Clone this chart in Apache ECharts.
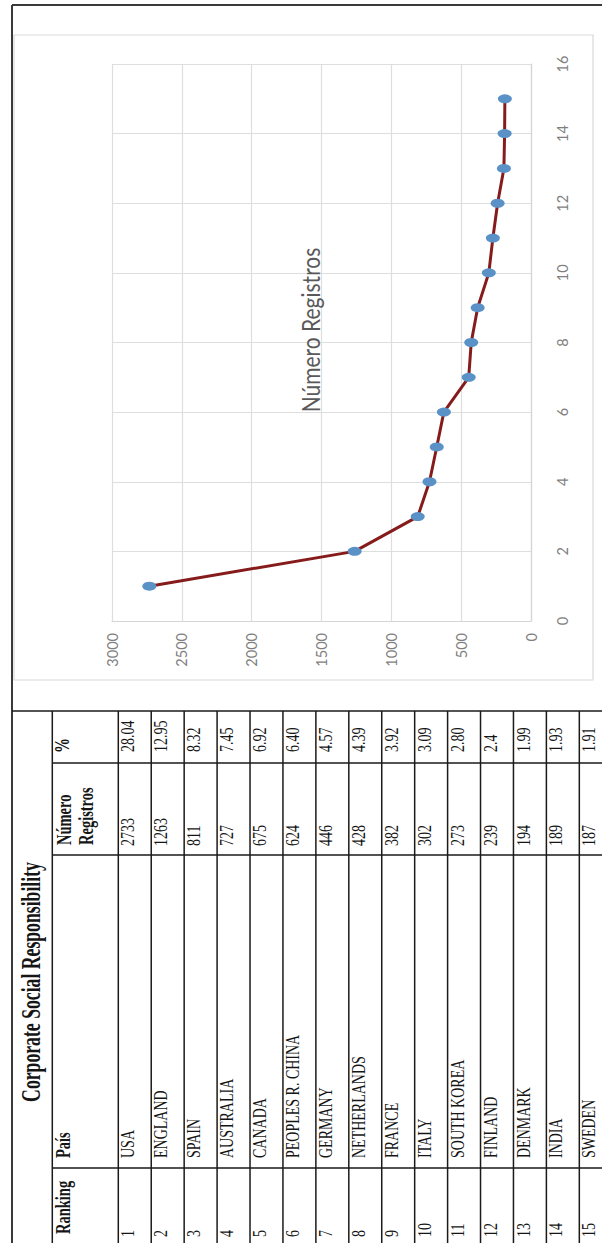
<!DOCTYPE html>
<html>
<head>
<meta charset="utf-8">
<script src="https://cdn.jsdelivr.net/npm/echarts@6/dist/echarts.min.js"></script>
<style>
html,body{margin:0;padding:0;background:#fff;}
#chart{width:602px;height:1243px;}
</style>
</head>
<body>
<div id="chart"></div>
<script>
// ---- data ----
const rankings = [1, 2, 3, 4, 5, 6, 7, 8, 9, 10, 11, 12, 13, 14, 15];
const countries = ['USA', 'ENGLAND', 'SPAIN', 'AUSTRALIA', 'CANADA', 'PEOPLES R. CHINA', 'GERMANY',
  'NETHERLANDS', 'FRANCE', 'ITALY', 'SOUTH KOREA', 'FINLAND', 'DENMARK', 'INDIA', 'SWEDEN'];
const registros = [2733, 1263, 811, 727, 675, 624, 446, 428, 382, 302, 273, 239, 194, 189, 187];
const percents = ['28.04', '12.95', '8.32', '7.45', '6.92', '6.40', '4.57', '4.39', '3.92', '3.09',
  '2.80', '2.4', '1.99', '1.93', '1.91'];
const tableTitle = 'Corporate Social Responsibility';
const headers = { ranking: 'Ranking', pais: 'País', num1: 'Número', num2: 'Registros', pct: '%' };
const chartTitle = 'Número Registros';

// ---- layout ----
const R = Math.PI / 2;
const serif = "'Liberation Serif','Times New Roman',serif";
const sans = "Lato,'Open Sans',sans-serif";
const ink = '#151515';
const rowStart = 118.3, rowH = 32.93;
const colLines = [763, 855, 1168];
const tableTop = 711;

function vtext(x, y, text, o) {
  return {
    type: 'text', x: x, y: y, rotation: R, scaleY: o.sy || 1, silent: true, z: 10,
    style: {
      text: text, fontFamily: o.family || serif, fontSize: o.size, fontWeight: o.weight || 'normal',
      fill: o.color || ink, align: o.align || 'left', verticalAlign: 'middle',
      textAlign: o.align || 'left', textVerticalAlign: 'middle'
    }
  };
}
function ln(x1, y1, x2, y2, c, w) {
  return { type: 'line', silent: true, z: 9, shape: { x1: x1, y1: y1, x2: x2, y2: y2 },
    style: { stroke: c || '#1a1a1a', lineWidth: w || 1.5 } };
}

const g = [];
// chart area border
g.push({ type: 'rect', silent: true, z: 1, shape: { x: 14, y: 35, width: 579, height: 645 },
  style: { fill: 'none', stroke: '#d9d9d9', lineWidth: 1.2 } });
// outer frame
g.push(ln(12, 5, 602, 5, '#3a3a3a', 2));
g.push(ln(12, 5, 12, 1243, '#3a3a3a', 2));
g.push(ln(12, tableTop, 602, tableTop, '#1a1a1a', 1.6));
// table lines
g.push(ln(52.3, tableTop, 52.3, 1243));
for (let k = 0; k < rankings.length; k++) {
  const x = rowStart + k * rowH;
  g.push(ln(x, tableTop, x, 1243));
}
colLines.forEach(function (y) { g.push(ln(52.3, y, 602, y)); });

// table title and headers
g.push(vtext(31.5, 982, tableTitle, { size: 17.7, weight: 'bold', sy: 1.5, align: 'center' }));
g.push(vtext(63, 1234, headers.ranking, { size: 14.5, weight: 'bold', sy: 1.4 }));
g.push(vtext(63.5, 1158, headers.pais, { size: 14.5, weight: 'bold', sy: 1.4 }));
g.push(vtext(64.5, 845, headers.num1, { size: 14.5, weight: 'bold', sy: 1.4 }));
g.push(vtext(86.5, 845, headers.num2, { size: 14.5, weight: 'bold', sy: 1.4 }));
g.push(vtext(62, 753, headers.pct, { size: 15, weight: 'bold', sy: 1.4 }));

// table rows
for (let i = 0; i < rankings.length; i++) {
  const cx = rowStart + i * rowH + 10.5;
  g.push(vtext(cx, 1237, String(rankings[i]), { size: 14, sy: 1.3 }));
  g.push(vtext(cx, 1158, countries[i], { size: 14, sy: 1.3 }));
  g.push(vtext(cx, 846, String(registros[i]), { size: 14, sy: 1.3 }));
  g.push(vtext(cx, 752, percents[i], { size: 14, sy: 1.3 }));
}

// chart title
g.push(vtext(310, 330, chartTitle, { size: 21, sy: 1.2, align: 'center', color: '#595959', family: sans }));

const chart = echarts.init(document.getElementById('chart'), null, { renderer: 'svg' });
chart.setOption({
  animation: false,
  backgroundColor: '#ffffff',
  grid: { left: 112, right: 71, top: 64, bottom: 622, containLabel: false },
  xAxis: {
    type: 'value', min: 0, max: 3000, interval: 500, inverse: true, position: 'bottom',
    axisLine: { show: true, lineStyle: { color: '#d4d4d4', width: 1.2 } },
    axisTick: { show: false },
    splitLine: { show: true, lineStyle: { color: '#dedede', width: 1.2 } },
    axisLabel: { rotate: 90, margin: 12, color: '#7f7f7f', fontSize: 14.5, fontFamily: sans,
      formatter: function (v) { return String(v); } }
  },
  yAxis: {
    type: 'value', min: 0, max: 16, interval: 2, position: 'right',
    axisLine: { show: true, lineStyle: { color: '#d4d4d4', width: 1.2 } },
    axisTick: { show: false },
    splitLine: { show: true, lineStyle: { color: '#dedede', width: 1.2 } },
    axisLabel: { rotate: 90, margin: 24, color: '#7f7f7f', fontSize: 14.5, fontFamily: sans,
      formatter: function (v) { return String(v); } }
  },
  series: [{
    type: 'line',
    data: registros.map(function (v, i) { return [v, rankings[i]]; }),
    lineStyle: { color: '#861b1b', width: 3 },
    symbol: 'circle', symbolSize: [14, 9],
    itemStyle: { color: '#5a92c8', borderWidth: 0 },
    z: 5
  }],
  graphic: g
});
</script>
</body>
</html>
